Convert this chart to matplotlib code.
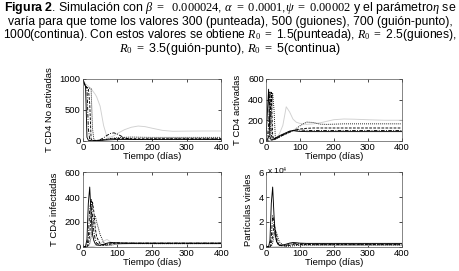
import matplotlib
matplotlib.use("Agg")
import matplotlib.pyplot as plt

plt.rcParams['font.family'] = ['Liberation Sans', 'DejaVu Sans']
plt.rcParams['mathtext.fontset'] = 'custom'
plt.rcParams['mathtext.rm'] = 'Liberation Serif'
plt.rcParams['mathtext.it'] = 'Liberation Serif:italic'
plt.rcParams['mathtext.bf'] = 'Liberation Sans:bold'

# tiempo (dias), comun a todas las curvas
t_days = [0, 4, 8, 12, 16, 20, 24, 28, 32, 36, 40, 50, 60, 70, 80, 90, 100,
          120, 140, 160, 180, 200, 230, 260, 300, 350, 400]

# T CD4 no activadas
nact_solid = [1000, 930, 880, 60, 10, 5, 3, 3, 3, 3, 4, 8, 12, 16, 19, 21, 22,
              22, 22, 22, 22, 22, 22, 22, 22, 22, 22]
nact_dashdot = [1000, 930, 880, 850, 200, 20, 5, 3, 3, 4, 6, 20, 50, 90, 120, 130, 110,
                50, 25, 22, 25, 28, 30, 30, 30, 30, 30]
nact_dashed = [1000, 930, 880, 860, 850, 600, 30, 8, 5, 5, 6, 12, 20, 28, 34, 38, 40,
               40, 37, 35, 35, 35, 35, 35, 35, 35, 35]
nact_dotted = [1000, 930, 885, 865, 855, 850, 840, 200, 20, 10, 8, 10, 18, 28, 38, 46, 52,
               58, 62, 60, 58, 57, 57, 57, 57, 57, 57]
nact_gray = [1000, 950, 920, 900, 880, 860, 840, 810, 780, 750, 710, 560, 250, 60, 60, 85, 120,
             180, 220, 240, 230, 205, 170, 155, 158, 160, 160]

# T CD4 activadas
act_solid = [0, 250, 500, 40, 8, 12, 20, 28, 35, 42, 50, 65, 80, 95, 100, 95, 92,
             90, 90, 90, 90, 90, 90, 90, 90, 90, 90]
act_dashdot = [0, 20, 150, 480, 60, 10, 15, 22, 30, 37, 45, 60, 75, 90, 100, 105, 105,
               102, 100, 100, 100, 100, 100, 100, 100, 100, 100]
act_dashed = [0, 5, 40, 200, 470, 50, 12, 18, 25, 32, 40, 55, 70, 85, 98, 108, 115,
              122, 125, 125, 125, 125, 125, 125, 125, 125, 125]
act_dotted = [0, 2, 10, 60, 250, 460, 300, 20, 20, 28, 36, 52, 68, 84, 100, 120, 145,
              182, 178, 162, 160, 162, 165, 165, 165, 165, 165]
act_gray = [0, 0, 2, 5, 8, 12, 18, 25, 35, 50, 70, 150, 330, 280, 210, 180, 170,
            160, 165, 175, 190, 205, 212, 210, 205, 200, 200]

# T CD4 infectadas
inf_solid = [0, 0, 5, 60, 350, 480, 250, 100, 50, 25, 15, 12, 20, 30, 35, 34, 32,
             30, 30, 30, 30, 30, 30, 30, 30, 30, 30]
inf_dashdot = [0, 0, 2, 10, 80, 300, 380, 250, 120, 60, 30, 15, 15, 22, 30, 33, 32,
               30, 30, 30, 30, 30, 30, 30, 30, 30, 30]
inf_dashed = [0, 0, 0, 4, 20, 100, 250, 360, 280, 150, 80, 25, 12, 15, 22, 28, 30,
              30, 29, 28, 28, 28, 28, 28, 28, 28, 28]
inf_dotted = [0, 0, 0, 1, 5, 25, 80, 170, 240, 250, 200, 100, 35, 15, 12, 18, 24,
              28, 27, 26, 26, 26, 26, 26, 26, 26, 26]
inf_gray = [0, 0, 0, 0, 0, 1, 2, 3, 5, 8, 12, 25, 45, 60, 40, 25, 20,
            22, 25, 26, 26, 25, 25, 25, 25, 25, 25]

# particulas virales
vir_solid = [0, 0, 300, 5000, 35000, 48000, 25000, 9000, 4000, 2000, 1500, 1500, 2200, 3000, 3500, 3300, 3000,
             2800, 2800, 2800, 2800, 2800, 2800, 2800, 2800, 2800, 2800]
vir_dashdot = [0, 0, 50, 800, 8000, 25000, 20000, 9000, 4000, 2000, 1200, 800, 1200, 2000, 2500, 2600, 2500,
               2300, 2200, 2200, 2200, 2200, 2200, 2200, 2200, 2200, 2200]
vir_dashed = [0, 0, 10, 200, 2000, 9000, 18000, 14000, 7000, 3000, 1500, 700, 700, 1200, 1700, 2000, 2000,
              1900, 1800, 1800, 1800, 1800, 1800, 1800, 1800, 1800, 1800]
vir_dotted = [0, 0, 0, 50, 500, 3000, 9000, 13000, 11000, 7000, 4000, 1500, 600, 500, 800, 1100, 1300,
              1500, 1500, 1500, 1500, 1500, 1500, 1500, 1500, 1500, 1500]
vir_gray = [0, 0, 0, 0, 0, 20, 50, 100, 200, 300, 450, 900, 1800, 3000, 2500, 1700, 1200,
            1000, 1100, 1200, 1200, 1200, 1200, 1200, 1200, 1200, 1200]

caption = [
    r"$\mathbf{Figura\ 2}$. Simulación con $\beta\ =\ \ 0.000024$, $\alpha\ =\ 0.0001$,$\psi\ =\ 0.00002$ y el parámetro$\eta$ se",
    "varía para que tome los valores 300 (punteada), 500 (guiones), 700 (guión-punto),",
    r"1000(continua). Con estos valores se obtiene $R_0\ =$ 1.5(punteada), $R_0\ =$ 2.5(guiones),",
    r"$R_0\ =$ 3.5(guión-punto), $R_0\ =$ 5(continua)",
]
caption_width = [452, 442, 452, 225]  # ancho de cada linea en px

panels = [
    ("T CD4 No activadas", [0, 500, 1000], 1000,
     [nact_gray, nact_solid, nact_dashdot, nact_dashed, nact_dotted]),
    ("T CD4 activadas", [0, 200, 400, 600], 600,
     [act_gray, act_solid, act_dashdot, act_dashed, act_dotted]),
    ("T CD4 infectadas", [0, 200, 400, 600], 600,
     [inf_gray, inf_solid, inf_dashdot, inf_dashed, inf_dotted]),
    ("Partículas virales", [0, 20000, 40000, 60000], 60000,
     [vir_gray, vir_solid, vir_dashdot, vir_dashed, vir_dotted]),
]

styles = [dict(color='#d0d0d0', ls='-'),
          dict(color='black', ls='-'),
          dict(color='black', ls=(0, (4, 1.5, 1, 1.5))),
          dict(color='black', ls=(0, (3, 1.5))),
          dict(color='black', ls=(0, (1, 1.2)))]

fig = plt.figure(figsize=(4.6, 2.71), dpi=100)
renderer = fig.canvas.get_renderer()

for i, line in enumerate(caption):
    txt = fig.text(0.5, 1 - (8 + 13.6 * i) / 271, line, ha='center', va='center', fontsize=10)
    w = txt.get_window_extent(renderer).width
    # ajusta el tamaño para que la linea ocupe lo mismo que en la figura original
    txt.set_fontsize(min(9.0, 10 * caption_width[i] / w))

rects = [[0.180, 0.480, 0.301, 0.229],
         [0.578, 0.480, 0.295, 0.229],
         [0.180, 0.089, 0.301, 0.276],
         [0.578, 0.089, 0.295, 0.276]]

for rect, (ylab, yt, ytop, series) in zip(rects, panels):
    ax = fig.add_axes(rect)
    for y, st in zip(series, styles):
        ax.plot(t_days, y, lw=0.65, **st)
    ax.set_xlim(0, 400)
    ax.set_ylim(0, ytop)
    ax.set_xticks([0, 100, 200, 300, 400])
    ax.set_yticks(yt)
    ax.tick_params(direction='in', length=2, width=0.5, labelsize=6.8, pad=1.5,
                   top=True, right=True)
    for s in ax.spines.values():
        s.set_linewidth(0.5)
        s.set_color('#555555')
    ax.set_xlabel("Tiempo (días)", fontsize=6.8, labelpad=0)
    ax.set_ylabel(ylab, fontsize=6.8, labelpad=4)
    if ytop == 60000:
        ax.set_yticklabels(['0', '2', '4', '6'])
        ax.text(0.01, 1.02, r"x 10$^{4}$", transform=ax.transAxes, fontsize=6,
                ha='left', va='center')

fig.savefig("out.png", dpi=100)
